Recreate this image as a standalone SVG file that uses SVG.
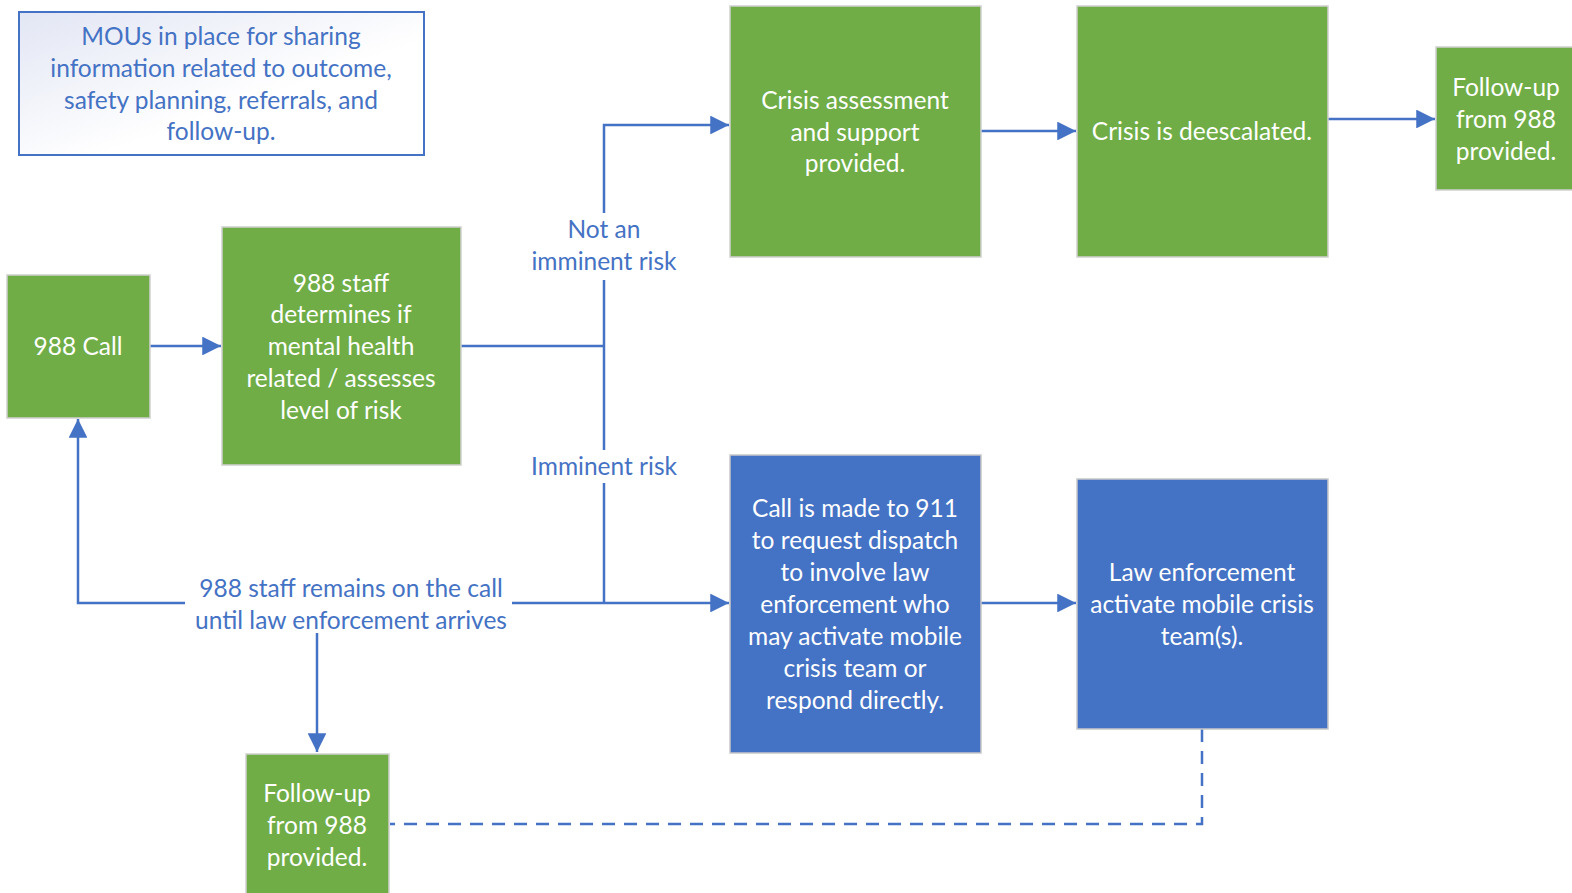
<svg xmlns="http://www.w3.org/2000/svg" width="1572" height="893" viewBox="0 0 1572 893">
<defs>
<linearGradient id="mouGrad" x1="0" y1="0" x2="1" y2="1">
<stop offset="0" stop-color="#E2E6F4"/>
<stop offset="0.6" stop-color="#FFFFFF"/>
<stop offset="1" stop-color="#FFFFFF"/>
</linearGradient>
<marker id="arr" viewBox="0 0 10 10" refX="10" refY="5" markerWidth="7.5" markerHeight="7.5" markerUnits="strokeWidth" orient="auto">
<path d="M0,0 L10,5 L0,10 z" fill="#4472C4"/>
</marker>
</defs>
<style>
.g{fill:#70AD47;stroke:#D0D0D0;stroke-width:1.5}
.b{fill:#4472C4;stroke:#C8C8C8;stroke-width:1.5}
.wt{font-family:Lato,"Liberation Sans",sans-serif;font-size:24.5px;fill:#FFFFFF;text-anchor:middle}
.bt{font-family:Lato,"Liberation Sans",sans-serif;font-size:24.5px;fill:#4472C4;text-anchor:middle}
.c{fill:none;stroke:#4472C4;stroke-width:2.5}
.d{fill:none;stroke:#4472C4;stroke-width:2.5;stroke-dasharray:13 9}
</style>
<rect width="1572" height="893" fill="#FFFFFF"/>
<g id="connectors">
<path class="c" d="M150,346 H221" marker-end="url(#arr)"/>
<path class="c" d="M461,346 H604"/>
<path class="c" d="M604,213 V125 H729" marker-end="url(#arr)"/>
<path class="c" d="M604,280 V450"/>
<path class="c" d="M604,483 V603"/>
<path class="c" d="M512,603 H729" marker-end="url(#arr)"/>
<path class="c" d="M185,603 H78 V419" marker-end="url(#arr)"/>
<path class="c" d="M317,633 V752" marker-end="url(#arr)"/>
<path class="c" d="M981,131 H1076" marker-end="url(#arr)"/>
<path class="c" d="M1328,119 H1435" marker-end="url(#arr)"/>
<path class="c" d="M981,603 H1076" marker-end="url(#arr)"/>
<path class="d" d="M1202,729 V824 H390"/>
</g>
<g id="labels">
<text class="bt" x="604" y="238">Not an</text>
<text class="bt" x="604" y="270">imminent risk</text>
<text class="bt" x="604" y="475">Imminent risk</text>
<text class="bt" x="351" y="597">988 staff remains on the call</text>
<text class="bt" x="351" y="629">until law enforcement arrives</text>
</g>
<g id="mou">
<rect x="19" y="12" width="405" height="143" fill="url(#mouGrad)" stroke="#4472C4" stroke-width="2"/>
<text class="bt" x="221" y="45">MOUs in place for sharing</text>
<text class="bt" x="221" y="77">information related to outcome,</text>
<text class="bt" x="221" y="109">safety planning, referrals, and</text>
<text class="bt" x="221" y="140">follow-up.</text>
</g>
<g id="call988">
<rect class="g" x="7" y="275" width="143" height="143"/>
<text class="wt" x="78" y="355">988 Call</text>
</g>
<g id="staff">
<rect class="g" x="222" y="227" width="239" height="238"/>
<text class="wt" x="341" y="292">988 staff</text>
<text class="wt" x="341" y="323">determines if</text>
<text class="wt" x="341" y="355">mental health</text>
<text class="wt" x="341" y="387">related / assesses</text>
<text class="wt" x="341" y="419">level of risk</text>
</g>
<g id="assess">
<rect class="g" x="730" y="6" width="251" height="251"/>
<text class="wt" x="855" y="109">Crisis assessment</text>
<text class="wt" x="855" y="141">and support</text>
<text class="wt" x="855" y="172">provided.</text>
</g>
<g id="deesc">
<rect class="g" x="1077" y="6" width="251" height="251"/>
<text class="wt" x="1202" y="140">Crisis is deescalated.</text>
</g>
<g id="followTop">
<rect class="g" x="1436" y="47" width="140" height="143"/>
<text class="wt" x="1506" y="96">Follow-up</text>
<text class="wt" x="1506" y="128">from 988</text>
<text class="wt" x="1506" y="160">provided.</text>
</g>
<g id="call911">
<rect class="b" x="730" y="455" width="251" height="298"/>
<text class="wt" x="855" y="517">Call is made to 911</text>
<text class="wt" x="855" y="549">to request dispatch</text>
<text class="wt" x="855" y="581">to involve law</text>
<text class="wt" x="855" y="613">enforcement who</text>
<text class="wt" x="855" y="645">may activate mobile</text>
<text class="wt" x="855" y="677">crisis team or</text>
<text class="wt" x="855" y="709">respond directly.</text>
</g>
<g id="lawenf">
<rect class="b" x="1077" y="479" width="251" height="250"/>
<text class="wt" x="1202" y="581">Law enforcement</text>
<text class="wt" x="1202" y="613">activate mobile crisis</text>
<text class="wt" x="1202" y="645">team(s).</text>
</g>
<g id="followBottom">
<rect class="g" x="246" y="754" width="143" height="145"/>
<text class="wt" x="317" y="802">Follow-up</text>
<text class="wt" x="317" y="834">from 988</text>
<text class="wt" x="317" y="866">provided.</text>
</g>
</svg>
